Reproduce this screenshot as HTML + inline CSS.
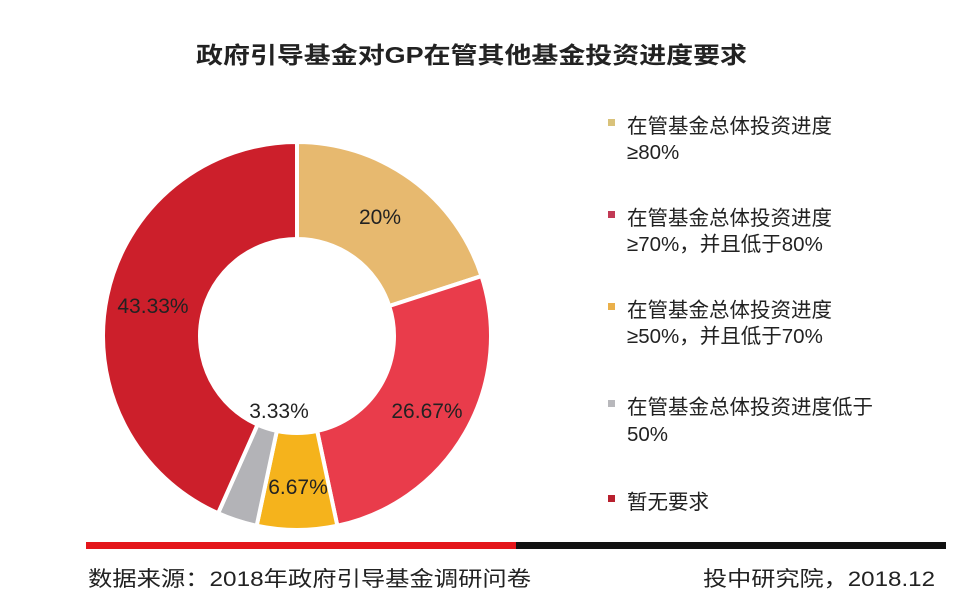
<!DOCTYPE html>
<html><head><meta charset="utf-8"><style>
body{margin:0;background:#fff;}
svg{display:block;font-family:"Liberation Sans","Noto Sans CJK SC",sans-serif;}
</style></head><body>
<svg width="962" height="616" viewBox="0 0 962 616">
<rect width="962" height="616" fill="#fff"/>
<text x="196" y="63" font-size="23" font-weight="bold" fill="#222" textLength="551" lengthAdjust="spacingAndGlyphs">政府引导基金对GP在管其他基金投资进度要求</text>
<g id="donut" stroke="#fff" stroke-width="4"></g>
<g font-size="21" fill="#222" text-anchor="middle">
<text x="380" y="224">20%</text>
<text x="427" y="418">26.67%</text>
<text x="298" y="494">6.67%</text>
<text x="279" y="418">3.33%</text>
<text x="153" y="313">43.33%</text>
</g>
<g font-size="20.5" fill="#222">
<rect x="608" y="119" width="7" height="7" fill="#d9c27a"/>
<text x="627" y="133">在管基金总体投资进度</text><text x="627" y="159">≥80%</text>
<rect x="608" y="211" width="7" height="7" fill="#c23a55"/>
<text x="627" y="225">在管基金总体投资进度</text><text x="627" y="251">≥70%，并且低于80%</text>
<rect x="608" y="303" width="7" height="7" fill="#eab04a"/>
<text x="627" y="317">在管基金总体投资进度</text><text x="627" y="343">≥50%，并且低于70%</text>
<rect x="608" y="400" width="7" height="7" fill="#b8b8bc"/>
<text x="627" y="414">在管基金总体投资进度低于</text><text x="627" y="441">50%</text>
<rect x="608" y="495" width="7" height="7" fill="#b8202e"/>
<text x="627" y="509">暂无要求</text>
</g>
<rect x="86" y="542" width="430" height="7" fill="#e4161b"/>
<rect x="516" y="542" width="430" height="7" fill="#111"/>
<text x="88" y="586" font-size="21" fill="#222" textLength="443" lengthAdjust="spacingAndGlyphs">数据来源：2018年政府引导基金调研问卷</text>
<text x="703" y="586" font-size="21" fill="#222" textLength="232" lengthAdjust="spacingAndGlyphs">投中研究院，2018.12</text>
<script>
(function(){
var cx=297,cy=336,R=194,r=97;
var segs=[[0,72,"#e7b96f"],[72,168,"#e93c4b"],[168,192,"#f5b31c"],[192,204,"#b3b3b7"],[204,360,"#cc1f2b"]];
var g=document.getElementById("donut");
function pt(a,rad){var t=(a-90)*Math.PI/180;return [cx+rad*Math.cos(t),cy+rad*Math.sin(t)];}
segs.forEach(function(s){
var a0=s[0],a1=s[1],lg=(a1-a0)>180?1:0;
var p1=pt(a0,R),p2=pt(a1,R),p3=pt(a1,r),p4=pt(a0,r);
var d="M"+p1+"A"+R+","+R+" 0 "+lg+" 1 "+p2+"L"+p3+"A"+r+","+r+" 0 "+lg+" 0 "+p4+"Z";
var p=document.createElementNS("http://www.w3.org/2000/svg","path");
p.setAttribute("d",d);p.setAttribute("fill",s[2]);g.appendChild(p);
});
})();
</script>
</svg>
</body></html>
